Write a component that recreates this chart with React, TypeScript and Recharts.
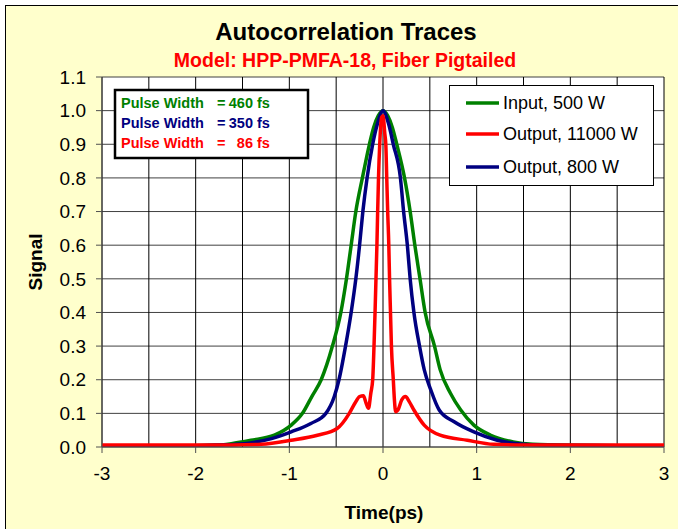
import { LineChart, Line, XAxis, YAxis, CartesianGrid } from 'recharts';

// values (time in ps, normalised signal)
const inputTrace = [
  { t: -3, v: 0.004 }, { t: -2.5, v: 0.004 }, { t: -2, v: 0.004 }, { t: -1.8, v: 0.005 },
  { t: -1.62, v: 0.01 }, { t: -1.41, v: 0.02 }, { t: -1.16, v: 0.035 }, { t: -0.98, v: 0.065 },
  { t: -0.86, v: 0.1 }, { t: -0.76, v: 0.15 }, { t: -0.66, v: 0.2 }, { t: -0.54, v: 0.3 },
  { t: -0.45, v: 0.4 }, { t: -0.39, v: 0.5 }, { t: -0.34, v: 0.6 }, { t: -0.29, v: 0.7 },
  { t: -0.22, v: 0.8 }, { t: -0.145, v: 0.9 }, { t: -0.1, v: 0.95 }, { t: -0.05, v: 0.985 },
  { t: 0, v: 1.0 }, { t: 0.05, v: 0.985 }, { t: 0.1, v: 0.95 }, { t: 0.147, v: 0.9 },
  { t: 0.23, v: 0.8 }, { t: 0.29, v: 0.7 }, { t: 0.34, v: 0.6 }, { t: 0.395, v: 0.5 },
  { t: 0.45, v: 0.4 }, { t: 0.55, v: 0.3 }, { t: 0.61, v: 0.23 }, { t: 0.72, v: 0.16 },
  { t: 0.83, v: 0.11 }, { t: 0.97, v: 0.065 }, { t: 1.15, v: 0.035 }, { t: 1.39, v: 0.015 },
  { t: 1.6, v: 0.008 }, { t: 2, v: 0.005 }, { t: 2.5, v: 0.004 }, { t: 3, v: 0.004 },
];

const output800Trace = [
  { t: -3, v: 0.004 }, { t: -2.5, v: 0.004 }, { t: -2, v: 0.004 }, { t: -1.75, v: 0.006 },
  { t: -1.48, v: 0.01 }, { t: -1.19, v: 0.025 }, { t: -0.98, v: 0.045 }, { t: -0.77, v: 0.07 },
  { t: -0.61, v: 0.1 }, { t: -0.52, v: 0.15 }, { t: -0.47, v: 0.2 }, { t: -0.4, v: 0.3 },
  { t: -0.34, v: 0.4 }, { t: -0.29, v: 0.5 }, { t: -0.25, v: 0.6 }, { t: -0.215, v: 0.7 },
  { t: -0.17, v: 0.8 }, { t: -0.11, v: 0.9 }, { t: -0.06, v: 0.96 }, { t: 0, v: 1.0 },
  { t: 0.06, v: 0.96 }, { t: 0.11, v: 0.9 }, { t: 0.186, v: 0.8 }, { t: 0.22, v: 0.7 },
  { t: 0.26, v: 0.6 }, { t: 0.29, v: 0.5 }, { t: 0.33, v: 0.4 }, { t: 0.39, v: 0.3 },
  { t: 0.44, v: 0.23 }, { t: 0.51, v: 0.17 }, { t: 0.6, v: 0.11 }, { t: 0.76, v: 0.075 },
  { t: 0.97, v: 0.045 }, { t: 1.22, v: 0.02 }, { t: 1.5, v: 0.008 }, { t: 1.8, v: 0.005 },
  { t: 2.5, v: 0.004 }, { t: 3, v: 0.004 },
];

const output11000Trace = [
  { t: -3, v: 0.006 }, { t: -2.5, v: 0.006 }, { t: -2, v: 0.006 }, { t: -1.6, v: 0.006 },
  { t: -1.3, v: 0.008 }, { t: -0.98, v: 0.02 }, { t: -0.7, v: 0.035 }, { t: -0.49, v: 0.055 },
  { t: -0.36, v: 0.1 }, { t: -0.3, v: 0.13 }, { t: -0.25, v: 0.15 }, { t: -0.21, v: 0.152 },
  { t: -0.18, v: 0.13 }, { t: -0.155, v: 0.115 }, { t: -0.13, v: 0.16 }, { t: -0.11, v: 0.2 },
  { t: -0.096, v: 0.3 }, { t: -0.085, v: 0.4 }, { t: -0.075, v: 0.5 }, { t: -0.065, v: 0.6 },
  { t: -0.057, v: 0.7 }, { t: -0.048, v: 0.8 }, { t: -0.035, v: 0.9 }, { t: -0.015, v: 0.98 },
  { t: 0, v: 0.985 }, { t: 0.02, v: 0.93 }, { t: 0.03, v: 0.9 }, { t: 0.04, v: 0.8 },
  { t: 0.05, v: 0.7 }, { t: 0.062, v: 0.6 }, { t: 0.07, v: 0.5 }, { t: 0.08, v: 0.4 },
  { t: 0.09, v: 0.3 }, { t: 0.11, v: 0.2 }, { t: 0.122, v: 0.14 }, { t: 0.135, v: 0.105 },
  { t: 0.16, v: 0.11 }, { t: 0.2, v: 0.14 }, { t: 0.24, v: 0.15 }, { t: 0.28, v: 0.135 },
  { t: 0.33, v: 0.11 }, { t: 0.44, v: 0.065 }, { t: 0.61, v: 0.035 }, { t: 0.9, v: 0.02 },
  { t: 1.18, v: 0.008 }, { t: 1.5, v: 0.006 }, { t: 2, v: 0.006 }, { t: 2.5, v: 0.006 },
  { t: 3, v: 0.006 },
];

const timeTicks = [-3, -2, -1, 0, 1, 2, 3];
const timeGrid = [-3, -2.5, -2, -1.5, -1, -0.5, 0, 0.5, 1, 1.5, 2, 2.5, 3];
const signalTicks = [0, 0.1, 0.2, 0.3, 0.4, 0.5, 0.6, 0.7, 0.8, 0.9, 1.0, 1.1];

const pulseWidths = [460, 350, 86];
const pulseColors = ['#008000', '#000080', '#ff0000'];

// drawn in this order (red on top), legend lists them differently
const series = [
  { key: 'input', name: 'Input, 500 W', color: '#008000', data: inputTrace },
  { key: 'out800', name: 'Output, 800 W', color: '#000080', data: output800Trace },
  { key: 'out11000', name: 'Output, 11000 W', color: '#ff0000', data: output11000Trace },
];
const legendOrder = ['input', 'out11000', 'out800'];

const FONT = '"Liberation Sans", Arial, sans-serif';

function TraceLegend({ x, y }: { x: number; y: number }) {
  const rows = [18, 49, 82];
  return (
    <g transform={`translate(${x} ${y})`}>
      <rect x={0.5} y={0.5} width={204} height={100} fill="#fff" stroke="#000" />
      {legendOrder.map((k, i) => {
        const s = series.find((d) => d.key === k)!;
        return (
          <g key={k}>
            <line x1={17} x2={50} y1={rows[i]} y2={rows[i]} stroke={s.color} strokeWidth={3.5} />
            <text x={54} y={rows[i]} dominantBaseline="central" fontSize={18} fontFamily={FONT} fill="#000">
              {s.name}
            </text>
          </g>
        );
      })}
    </g>
  );
}

export default function App() {
  const rowY = [103, 123, 143];
  return (
    <div style={{ position: 'absolute', left: 0, top: 0, width: 678, height: 529, background: '#fff', overflow: 'hidden' }}>
      <div
        style={{
          position: 'absolute', left: 5, top: 5, width: 690, height: 540,
          background: '#ffffcc', border: '1.5px solid #000', boxSizing: 'border-box',
        }}
      />
      <div style={{ position: 'absolute', left: 0, top: 0 }}>
        <LineChart width={678} height={529} margin={{ top: 77, right: 14, bottom: 22, left: 22 }}>
          <CartesianGrid
            fill="#fff"
            stroke="#404040"
            vertical={false}
            horizontalValues={signalTicks}
          />
          <CartesianGrid stroke="#000" horizontal={false} verticalValues={timeGrid} />
          <XAxis
            type="number"
            dataKey="t"
            domain={[-3, 3]}
            ticks={timeTicks}
            interval={0}
            allowDataOverflow
            height={60}
            tickSize={6}
            tickMargin={14}
            stroke="#505050"
            tick={{ fill: '#000', fontSize: 19, fontFamily: FONT }}
          />
          <YAxis
            type="number"
            dataKey="v"
            domain={[0, 1.1]}
            ticks={signalTicks}
            interval={0}
            allowDataOverflow
            width={80}
            tickSize={6}
            tickMargin={10}
            stroke="#505050"
            tickFormatter={(v: number) => v.toFixed(1)}
            tick={{ fill: '#000', fontSize: 19, fontFamily: FONT }}
          />
          {series.map((s) => (
            <Line
              key={s.key}
              data={s.data}
              dataKey="v"
              name={s.name}
              type="monotone"
              stroke={s.color}
              strokeWidth={3.5}
              dot={false}
              isAnimationActive={false}
            />
          ))}
        </LineChart>
      </div>
      <svg width={678} height={529} style={{ position: 'absolute', left: 0, top: 0, pointerEvents: 'none' }}>
        <text x={346} y={31} textAnchor="middle" dominantBaseline="central" fontSize={24} fontWeight="bold" fontFamily={FONT} fill="#000">
          Autocorrelation Traces
        </text>
        <text x={345} y={60} textAnchor="middle" dominantBaseline="central" fontSize={19.5} fontWeight="bold" fontFamily={FONT} fill="#ff0000">
          Model: HPP-PMFA-18, Fiber Pigtailed
        </text>
        <text x={384} y={512} textAnchor="middle" dominantBaseline="central" fontSize={19} fontWeight="bold" fontFamily={FONT} fill="#000">
          Time(ps)
        </text>
        <text x={35} y={262} transform="rotate(-90 35 262)" textAnchor="middle" dominantBaseline="central" fontSize={19} fontWeight="bold" fontFamily={FONT} fill="#000">
          Signal
        </text>
        <rect x={115} y={90} width={193} height={68} fill="#fff" stroke="#000" strokeWidth={2.5} />
        {pulseWidths.map((w, i) => (
          <g key={w} fontSize={14.5} fontWeight="bold" fontFamily={FONT} fill={pulseColors[i]}>
            <text x={121} y={rowY[i]} dominantBaseline="central">Pulse Width</text>
            <text x={217} y={rowY[i]} dominantBaseline="central">=</text>
            <text x={253} y={rowY[i]} textAnchor="end" dominantBaseline="central">{w}</text>
            <text x={257} y={rowY[i]} dominantBaseline="central">fs</text>
          </g>
        ))}
        <TraceLegend x={449} y={85} />
      </svg>
    </div>
  );
}
